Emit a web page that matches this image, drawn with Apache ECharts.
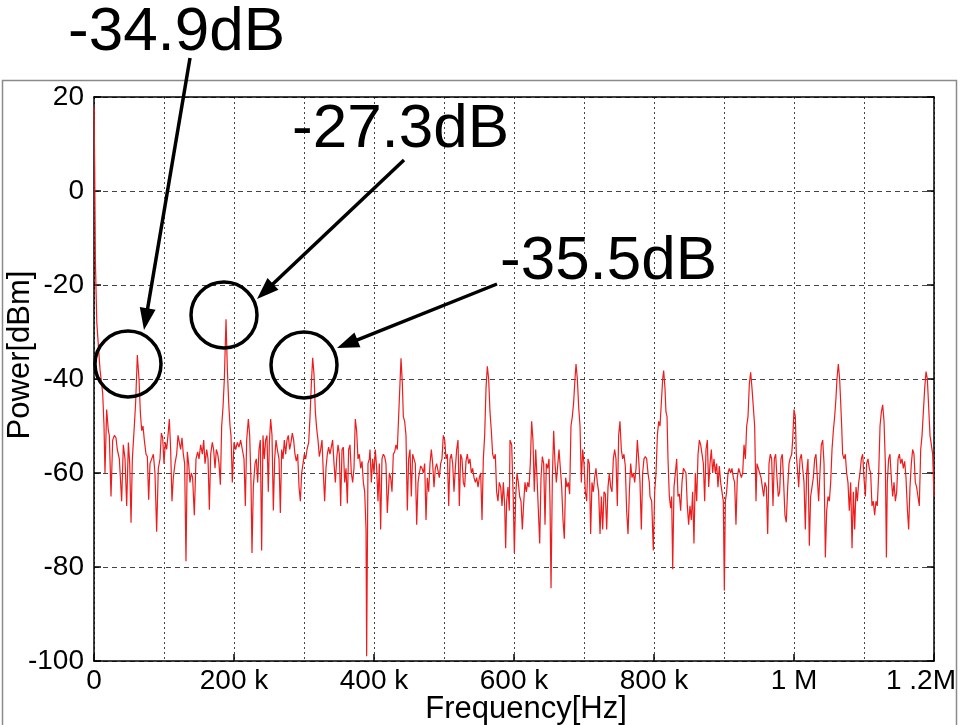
<!DOCTYPE html>
<html>
<head>
<meta charset="utf-8">
<script src="https://cdn.jsdelivr.net/npm/echarts@6/dist/echarts.min.js"></script>
<style>
  html, body { margin: 0; padding: 0; background: #fff; }
  #chart { width: 960px; height: 725px; }
</style>
</head>
<body>
<div id="chart"></div>
<script>
// Power spectrum, [frequency in kHz, power in dBm]
const spectrum = [
  [0,18],[1,5],[2,-15],[4,-28],[8.6,-38],[12.4,-43],[14.3,-50],[15.7,-60],[18.1,-46.5],[20.5,-51],
  [21.9,-52],[24.3,-65],[26.7,-53],[29.1,-52],[31.4,-52.5],[33.3,-55],[36.2,-57],[39.5,-66],[41.9,-54],[44.3,-57],
  [46.7,-67],[49.1,-53.5],[51,-58],[52.9,-70.6],[54.8,-57],[57.6,-50],[59.5,-45],[61.9,-34.9],[64.3,-40],[66.2,-47],
  [68.1,-51],[70,-50],[71.9,-53],[74.3,-56],[76.2,-56.5],[78.1,-65.7],[80,-58],[82.4,-57],[84.8,-56],[87.1,-60],
  [89.5,-72.5],[91.9,-59],[94.3,-57],[96.2,-51.5],[98.1,-52.5],[100,-58],[101.9,-53.5],[103.8,-55],[105.7,-52],[107.6,-48.5],
  [109.5,-55],[111.4,-66],[113.3,-61],[115.7,-58],[118.1,-56],[120,-52],[121.9,-53.5],[123.8,-55],[125.7,-52.5],[127.6,-56],
  [129.5,-58],[131.4,-78.8],[133.3,-55.5],[135.2,-58],[137.1,-62],[139,-60],[140.9,-61],[143.3,-69],[145.7,-57],[148.1,-55.5],
  [150,-57],[152.4,-54],[154.8,-56],[156.7,-53],[158.6,-58],[161,-55],[162.9,-57],[164.8,-67.8],[166.7,-56],[169,-53.5],
  [170.9,-55],[172.9,-59],[174.8,-55],[176.7,-56],[178.6,-58],[180.5,-62.5],[182.4,-50],[184.3,-46],[186.2,-40],[188.6,-27.3],
  [190.5,-38],[192.4,-45],[194.3,-50],
  [195.7,-52],[197.6,-62],[200,-53.5],[202.4,-55],[204.8,-53.5],[207.1,-54.5],[209.5,-53],[211.9,-55],[214.3,-57],[216.2,-67],
  [218.1,-53],[220.5,-48.5],[222.4,-52],[224.3,-62],[225.7,-77],[227.6,-63],[230,-58],[231.9,-57],[233.8,-62],[235.7,-55],
  [237.6,-53],[239.5,-76.5],[241.4,-52],[243.3,-57],[245.2,-53],[247.1,-52],[249,-64],[250.5,-53.5],[252.4,-48.5],[254.3,-52],
  [256.2,-68],[258.1,-57],[260,-53],[261.9,-55],[264.3,-57],[266.2,-68.5],[268.1,-55],[270,-57],[271.9,-53],[273.8,-56],
  [275.7,-53],[277.6,-52],[279.5,-55],[281.4,-53.5],[283.3,-51.5],[285.2,-53],[287.1,-56],[289,-57.5],[291,-56],[292.9,-63],
  [294.8,-66],[296.7,-60],[298.6,-58],[300.5,-56],[302.4,-57],[304.3,-55],[306.7,-53.5],[308.6,-48],[310.5,-41],[312.4,-35.5],
  [314.3,-39],[316.2,-47],[318.1,-50.5],[320,-53],[321.9,-56.5],[323.8,-55],[325.7,-53],[327.6,-60],[329.5,-66],[331.4,-59],
  [333.3,-56],[335.2,-54.5],[337.1,-56],[339,-54.5],[340.9,-53],[342.9,-58],[344.8,-62],[346.7,-57],[348.6,-54],[350.5,-56],
  [352.4,-67],[354.3,-55],[356.2,-54.5],[358.1,-62],[360,-59],[361.9,-66.5],[363.8,-55],[365.7,-54],[367.6,-60],[369.5,-62],
  [371.4,-59],[373.3,-48.5],[375.2,-51],[377.1,-57],[379,-56],[381,-59],[382.9,-57.5],[384.8,-62],[386.7,-64],[388.6,-72],
  [389.5,-99],[391.4,-58],[393.3,-57],
  [394.3,-55],[396.2,-62],[398.1,-57],[400,-60],[401.9,-55],[403.8,-59],[405.7,-66],[407.6,-58],[409.5,-72],[411.4,-57],
  [413.3,-56],[415.2,-56.5],[417.1,-58],[419,-68.5],[422,-60],[423.8,-61],[425.7,-64],[427.6,-56],[429.5,-55.5],[431.4,-54],
  [433.3,-55],[435.2,-48],[437.1,-41],[438.6,-35.6],[440.5,-41],[441.9,-48],[443.8,-49],[445.7,-52],[447.6,-68],[449.5,-57],
  [451.4,-55],[453.3,-65],[455.2,-56],[457.1,-56],[459,-58],[461,-71],[462.9,-62],[464.8,-60],[466.7,-58.5],[468.6,-59],
  [470.5,-60],[472.4,-58],[474.3,-70],[476.2,-61],[478.1,-64],[480,-58],[481.9,-55],[483.8,-58],[485.7,-63],[487.6,-59],
  [489.5,-58],[491.4,-59.5],[493.3,-61],[495.2,-58],[497.1,-57],[499,-52],[501,-53],[502.9,-57],[504.8,-56],[506.7,-67],
  [508.6,-57],[510.5,-56],[512.4,-58],[514.3,-64],[516.2,-59],[518.1,-55],[520,-53],[521.9,-67],[523.8,-56],[525.7,-57],
  [527.6,-62],[529.5,-63],[531.4,-57.5],[533.3,-56],[535.2,-58],[537.1,-57],[539,-60],[540.9,-59],[542.9,-61],[544.8,-62],
  [546.7,-61],[548.6,-63],[550.5,-61],[552.4,-60],[554.3,-70],[556.2,-57],[558.1,-52],[560,-42],[561.9,-37.3],[563.8,-40],
  [565.7,-47],[567.6,-51],[569.5,-56],[571.4,-57],[573.3,-56],[575.2,-64],[577.1,-66],[579,-62],[581,-63],[582.9,-67],
  [584.8,-62],[586.7,-67],[588.1,-76],[589.5,-66],[591.4,-63],[593.3,-68],
  [594.3,-53],[596.7,-54],[599,-66],[600.5,-77],[602.4,-65],[604.3,-60],[606.2,-62],[608.1,-65],[610,-66],[611.9,-72],
  [613.8,-66.5],[615.7,-62],[617.6,-64],[619.5,-62],[621.4,-63],[623.3,-58],[625.2,-49],[627.1,-53],[629,-64],[631,-55],
  [632.9,-61],[634.8,-68],[636.7,-75],[638.6,-61],[640.5,-56.5],[642.4,-58],[644.3,-71],[646.2,-58],[648.1,-59],[650,-57],
  [651.4,-66],[652.9,-84.5],[654.8,-61],[656.7,-51],[658.6,-58],[660.5,-62],[662.4,-62],[664.3,-55],[666.2,-59],[668.1,-63],
  [670,-70],[671.9,-74],[673.8,-61],[675.7,-63],[677.6,-62],[679.5,-64.5],[681.4,-50],[683.3,-48],[685.2,-45],[687.1,-40],
  [688.6,-36.8],[690.5,-40],[692.4,-46],[694.3,-50],[696.2,-62],[698.1,-55],[700,-58],[701.9,-64],[703.8,-66],[705.7,-57],
  [707.6,-58],[709.5,-73],[711.4,-62],[713.3,-64],[715.2,-61],[717.1,-59],[719,-62],[720.9,-64],[722.9,-73],[724.8,-65],
  [726.7,-72],[728.6,-64],[730.5,-64.5],[732.4,-72],[734.3,-63],[736.2,-60],[738.1,-63],[740,-64],[741.9,-57],[743.8,-55],
  [745.7,-57],[747.6,-67],[749.5,-52],[751.4,-49],[753.3,-55],[755.2,-57],[757.1,-56],[759,-58.5],[760.9,-68],[762.9,-73],
  [764.8,-64],[766.7,-58],[768.6,-61],[770.5,-60],[772.4,-62],[774.3,-59],[776.2,-53],[778.1,-57],[780,-62],[781.9,-72],
  [783.8,-60],[785.7,-57],[787.6,-56.5],[789.5,-57],[791.4,-60],[793.3,-62],
  [794.3,-65],[796.7,-66],[799,-76.5],[801,-64],[802.9,-60],[804.8,-52],[806.7,-49],[808.6,-50],[810.5,-45],[812.4,-40],
  [813.8,-38.2],[815.7,-42],[817.1,-47],[818.6,-48],[820,-57],[821.9,-65],[823.8,-67.5],[825.2,-65],[826.7,-80.5],[828.6,-63],
  [830.5,-60],[832.4,-57],[834.3,-65],[836.2,-64.5],[838.1,-68],[840,-62],[842,-59],[843.8,-59.5],[845.7,-60],[847.6,-67],
  [849.5,-71],[851.4,-67],[853.3,-70],[855.2,-64],[857.1,-75],[859,-60],[861,-66],[862.9,-56],[864.8,-53],[866.7,-54],
  [868.6,-56],[870.5,-58],[872.4,-66],[874.3,-55],[876.2,-53],[878.1,-63],[880,-58],[881.9,-55],[883.8,-60],[885.7,-57],
  [887.6,-60],[889.5,-58],[891.4,-63],[893.3,-58.5],[895.2,-62],[897.1,-64],[899,-66],[900.5,-85],[901.9,-66],[903.8,-64],
  [905.7,-60],[907.6,-59],[909.5,-60],[911.4,-59],[913.3,-61],[915.2,-62],[917.1,-71],[919,-61],[921,-59],[922.9,-60],
  [924.8,-61],[926.7,-60],[928.6,-54],[930.5,-57],[932.4,-50],[934.3,-48],[936.2,-41],[938.1,-38.6],[940,-42],[941.9,-46],
  [943.8,-50],[945.7,-66],[947.1,-58],[949,-59],[950.9,-60],[952.9,-61],[954.8,-63],[956.7,-65],[958.6,-62],[960.5,-63],
  [962.4,-73],[964.3,-58],[966.2,-56],[968.1,-57],[970,-67],[971.9,-57],[973.8,-56],[975.7,-61],[977.6,-65],[979.5,-64],
  [981.4,-57],[983.3,-56],[985.2,-62],[987.1,-69],[989,-70.5],[991,-63],[992.9,-58],
  [994.3,-57],[996.7,-56],[998.1,-53],[1000,-46.5],[1001.9,-48],[1003.3,-56],[1004.8,-59],[1006.7,-63],[1008.6,-57],[1010.5,-56],
  [1012.4,-59],[1014.3,-62],[1016.2,-72],[1018.1,-60],[1020,-57],[1021.9,-75.5],[1023.8,-65],[1025.7,-63],[1027.6,-61],[1029.5,-57],
  [1031.4,-56],[1033.3,-61],[1035.2,-66],[1037.1,-60],[1039,-54],[1041,-53],[1042.9,-58],[1044.8,-78],[1046.7,-68],[1048.6,-65],
  [1050.5,-66],[1052.4,-62],[1054.3,-55],[1056.2,-51],[1058.1,-48],[1060,-44],[1061.4,-40],[1063.3,-36.8],[1065.2,-40],[1066.7,-45],
  [1068.1,-50],[1069.5,-56],[1071.4,-57],[1073.3,-56],[1075.2,-60],[1077.1,-62],[1079,-68],[1081,-62],[1082.9,-76],[1084.8,-64],
  [1086.7,-72],[1088.6,-63],[1090.5,-66],[1092.4,-62],[1094.3,-60],[1096.2,-57],[1098.1,-56],[1100,-61],[1101.9,-65],[1103.8,-58],
  [1105.7,-57],[1107.6,-59],[1109.5,-60],[1111.4,-67],[1113.3,-66],[1115.2,-69],[1117.1,-66],[1119,-67],[1121,-60],[1122.9,-50],
  [1124.8,-47],[1126.7,-45.5],[1128.6,-49],[1130.5,-58],[1132,-78],[1133.3,-62],[1135.2,-57],[1137.1,-56],[1139,-61],[1141,-65],
  [1142.9,-62],[1144.8,-66],[1146.7,-64],[1148.6,-57],[1150.5,-56],[1152.4,-58],[1154.3,-57],[1156.2,-59],[1158.1,-57.5],[1160,-61],
  [1161.9,-67.5],[1163.8,-72],[1165.7,-63],[1167.6,-58],[1169.5,-55],[1171.4,-56],[1173.3,-62],[1175.2,-63],[1177.1,-65],[1179,-67],
  [1181,-55],[1182.9,-52],[1184.8,-47],[1186.7,-42],[1188.6,-38.4],[1190.5,-40],[1192.4,-46],[1194.3,-52],[1196.2,-54],[1198.1,-56],
  [1200,-65]
];

// Frequency tick labels (Hz -> text)
const xTickValues = [0, 200000, 400000, 600000, 800000, 1000000, 1200000];
const xTickLabels = ['0', '200 k', '400 k', '600 k', '800 k', '1 M', '1 .2M'];

// Annotated harmonic levels (dB)
const noteValues = [-34.9, -27.3, -35.5];

const AXIS_FONT = '"Liberation Sans", Arial, sans-serif';
const NOTE_FONT = '"Liberation Sans", Arial, sans-serif';

const chart = echarts.init(document.getElementById('chart'), null, { renderer: 'canvas' });

const gridBox = {
  left: 94, top: 97, right: 26, bottom: 64,
  containLabel: false, outerBoundsMode: 'none'
};

// arrow: line plus a filled triangular head at the tip
function arrow(x1, y1, x2, y2) {
  const dx = x2 - x1, dy = y2 - y1;
  const len = Math.hypot(dx, dy);
  const ux = dx / len, uy = dy / len;
  const headLen = 22, headHalf = 8;
  const bx = x2 - ux * headLen, by = y2 - uy * headLen;
  const px = -uy, py = ux;
  return [
    {
      type: 'line', z: 100,
      shape: { x1: x1, y1: y1, x2: bx + ux * 2, y2: by + uy * 2 },
      style: { stroke: '#000', lineWidth: 3.5 }
    },
    {
      type: 'polygon', z: 100,
      shape: { points: [[x2, y2], [bx + px * headHalf, by + py * headHalf], [bx - px * headHalf, by - py * headHalf]] },
      style: { fill: '#000' }
    }
  ];
}

function ring(cx, cy, r) {
  return {
    type: 'circle', z: 100,
    shape: { cx: cx, cy: cy, r: r },
    style: { fill: 'none', stroke: '#000', lineWidth: 3.5 }
  };
}

function note(text, x, y) {
  return {
    type: 'text', z: 100, x: x, y: y,
    style: { text: text, font: '62px ' + NOTE_FONT, fill: '#000', textVerticalAlign: 'middle' }
  };
}

const noteText = noteValues.map(v => v.toFixed(1) + 'dB');

const option = {
  animation: false,
  backgroundColor: '#fff',
  grid: gridBox,
  xAxis: [
    {
      type: 'value', min: 0, max: 1200000, interval: 200000,
      position: 'bottom',
      name: 'Frequency[Hz]', nameLocation: 'middle', nameGap: 33, nameMoveOverlap: false,
      nameTextStyle: { fontFamily: AXIS_FONT, fontSize: 31, color: '#000', padding: [0, 0, 0, 24] },
      axisLine: { show: true, onZero: false, lineStyle: { color: '#000', width: 1.5 } },
      axisTick: { show: true, inside: true, length: 7, lineStyle: { color: '#000', width: 1.5 } },
      axisLabel: {
        fontFamily: AXIS_FONT, fontSize: 28, color: '#000', margin: 6,
        formatter: v => {
          const i = xTickValues.indexOf(v);
          if (i < 0) return '';
          return i === xTickLabels.length - 1 ? '{end|' + xTickLabels[i] + '}' : xTickLabels[i];
        },
        rich: {
          end: { fontFamily: AXIS_FONT, fontSize: 28, color: '#000', padding: [0, 26, 0, 0] }
        }
      },
      splitLine: { show: false }
    },
    {
      type: 'value', min: 0, max: 1200000, interval: 100000,
      position: 'top',
      axisLine: { show: true, onZero: false, lineStyle: { color: '#000', width: 1.5 } },
      axisTick: { show: false },
      axisLabel: { show: false },
      splitLine: { show: true, lineStyle: { color: '#444', width: 1, type: [2, 3] } }
    }
  ],
  yAxis: [
    {
      type: 'value', min: -100, max: 20, interval: 20,
      position: 'left',
      name: 'Power[dBm]', nameLocation: 'middle', nameGap: 58, nameMoveOverlap: false,
      nameTextStyle: { fontFamily: AXIS_FONT, fontSize: 31, color: '#000', padding: [0, 0, 0, 48] },
      axisLine: { show: true, onZero: false, lineStyle: { color: '#000', width: 1.5 } },
      axisTick: { show: true, inside: true, length: 7, lineStyle: { color: '#000', width: 1.5 } },
      axisLabel: { fontFamily: AXIS_FONT, fontSize: 28, color: '#000', margin: 10 },
      splitLine: { show: true, lineStyle: { color: '#444', width: 1, type: [5, 4] } }
    },
    {
      type: 'value', min: -100, max: 20, interval: 20,
      position: 'right',
      axisLine: { show: true, onZero: false, lineStyle: { color: '#000', width: 1.5 } },
      axisTick: { show: true, inside: true, length: 7, lineStyle: { color: '#000', width: 1.5 } },
      axisLabel: { show: false },
      splitLine: { show: false }
    }
  ],
  series: [
    {
      type: 'line',
      xAxisIndex: 0, yAxisIndex: 0,
      data: spectrum.map(p => [p[0] * 1000, p[1]]),
      showSymbol: false,
      lineStyle: { color: '#ee1c1c', width: 1.2 },
      z: 5
    }
  ],
  graphic: [
    {
      type: 'rect', z: 90,
      shape: { x: 2.5, y: 80.5, width: 954, height: 700 },
      style: { fill: 'none', stroke: '#8a8a8a', lineWidth: 1.5 }
    },
    ring(128, 364, 33),
    ring(224, 315, 33),
    ring(304, 365, 33),
    ...arrow(190, 58, 144, 330),
    ...arrow(404, 160, 257, 299),
    ...arrow(497, 284, 337, 348),
    note(noteText[0], 68, 33),
    note(noteText[1], 292, 130),
    note(noteText[2], 500, 262)
  ]
};

chart.setOption(option);
</script>
</body>
</html>
